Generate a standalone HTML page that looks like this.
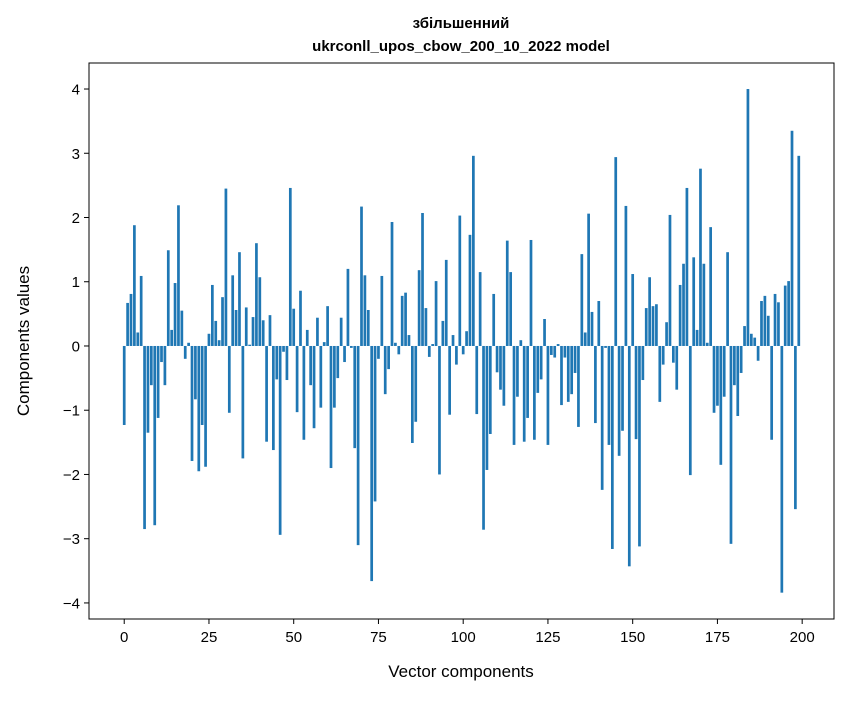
<!DOCTYPE html>
<html><head><meta charset="utf-8"><style>
html,body{margin:0;padding:0;background:#fff;}
svg text{font-family:"Liberation Sans","DejaVu Sans",sans-serif;fill:#000;}
</style></head><body>
<svg id="chart" width="847" height="696" xmlns="http://www.w3.org/2000/svg">
<rect width="847" height="696" fill="#fff"/>
<text x="461" y="28" text-anchor="middle" font-size="15" font-weight="bold">збільшенний</text>
<text x="461" y="51" text-anchor="middle" font-size="15" font-weight="bold">ukrconll_upos_cbow_200_10_2022 model</text>
<g id="bars"></g>
<g id="xticks"></g>
<g id="yticks"></g>
<rect x="89" y="63" width="745" height="556" fill="none" stroke="#000" stroke-width="1"/>
<text x="461" y="677" text-anchor="middle" font-size="17">Vector components</text>
<text transform="translate(29,341) rotate(-90)" text-anchor="middle" font-size="17">Components values</text>
</svg>
<script>
const values = [-1.23,0.67,0.81,1.88,0.21,1.09,-2.85,-1.35,-0.61,-2.79,
-1.12,-0.25,-0.61,1.49,0.25,0.98,2.19,0.55,-0.2,0.05,
-1.79,-0.83,-1.95,-1.23,-1.88,0.19,0.95,0.39,0.09,0.76,
2.45,-1.04,1.1,0.56,1.46,-1.75,0.6,0.02,0.45,1.6,
1.07,0.4,-1.49,0.48,-1.62,-0.52,-2.94,-0.09,-0.53,2.46,
0.58,-1.03,0.86,-1.46,0.25,-0.61,-1.28,0.44,-0.96,0.06,
0.62,-1.9,-0.96,-0.5,0.44,-0.25,1.2,-0.03,-1.59,-3.1,
2.17,1.1,0.56,-3.66,-2.42,-0.2,1.09,-0.75,-0.36,1.93,
0.05,-0.13,0.78,0.83,0.17,-1.51,-1.18,1.18,2.07,0.59,
-0.17,0.03,1.01,-2.0,0.39,1.34,-1.07,0.17,-0.29,2.03,
-0.13,0.23,1.73,2.96,-1.06,1.15,-2.86,-1.93,-1.37,0.81,
-0.41,-0.68,-0.93,1.64,1.15,-1.54,-0.79,0.09,-1.49,-1.12,
1.65,-1.46,-0.73,-0.52,0.42,-1.54,-0.14,-0.18,0.03,-0.92,
-0.18,-0.87,-0.75,-0.42,-1.26,1.43,0.21,2.06,0.53,-1.2,
0.7,-2.24,-0.03,-1.54,-3.16,2.94,-1.71,-1.32,2.18,-3.43,
1.12,-1.45,-3.12,-0.53,0.59,1.07,0.62,0.65,-0.87,-0.29,
0.37,2.04,-0.26,-0.68,0.95,1.28,2.46,-2.01,1.38,0.25,
2.76,1.28,0.05,1.85,-1.04,-0.93,-1.85,-0.79,1.46,-3.08,
-0.61,-1.09,-0.42,0.31,4.0,0.19,0.13,-0.23,0.7,0.78,
0.47,-1.46,0.81,0.68,-3.84,0.94,1.01,3.35,-2.54,2.96];
const xTickLabels = [0,25,50,75,100,125,150,175,200];
const yTickLabels = [-4,-3,-2,-1,0,1,2,3,4];
const NS="http://www.w3.org/2000/svg";
const PL=89,PR=834,PT=63,PB=619;
const xMin=-10.39,xMax=209.39,yMin=-4.25,yMax=4.405;
function xs(v){return PL+(v-xMin)/(xMax-xMin)*(PR-PL);}
function ys(v){return PB-(v-yMin)/(yMax-yMin)*(PB-PT);}
const bars=document.getElementById('bars');
values.forEach((v,i)=>{
  const r=document.createElementNS(NS,'rect');
  const x0=xs(i-0.4),x1=xs(i+0.4);
  const y0=ys(Math.max(v,0)),y1=ys(Math.min(v,0));
  r.setAttribute('x',x0);r.setAttribute('width',x1-x0);
  r.setAttribute('y',y0);r.setAttribute('height',Math.max(y1-y0,0.3));
  r.setAttribute('fill','#1f77b4');
  
  
  bars.appendChild(r);
});
const xt=document.getElementById('xticks');
xTickLabels.forEach(t=>{
  const x=xs(t);
  const l=document.createElementNS(NS,'line');
  l.setAttribute('x1',x);l.setAttribute('x2',x);l.setAttribute('y1',PB);l.setAttribute('y2',PB+5);
  l.setAttribute('stroke','#000');
  
  
  xt.appendChild(l);
  const tx=document.createElementNS(NS,'text');
  tx.setAttribute('x',x);tx.setAttribute('y',PB+23);tx.setAttribute('text-anchor','middle');tx.setAttribute('font-size','15');
  tx.textContent=t;
  
  
  xt.appendChild(tx);
});
const yt=document.getElementById('yticks');
yTickLabels.forEach(t=>{
  const y=ys(t);
  const l=document.createElementNS(NS,'line');
  l.setAttribute('x1',PL-5);l.setAttribute('x2',PL);l.setAttribute('y1',y);l.setAttribute('y2',y);
  l.setAttribute('stroke','#000');
  
  
  yt.appendChild(l);
  const tx=document.createElementNS(NS,'text');
  tx.setAttribute('x',PL-9);tx.setAttribute('y',y+5.5);tx.setAttribute('text-anchor','end');tx.setAttribute('font-size','15');
  tx.textContent=t<0?'\u2212'+Math.abs(t):String(t);
  
  
  yt.appendChild(tx);
});
</script>
</body></html>
